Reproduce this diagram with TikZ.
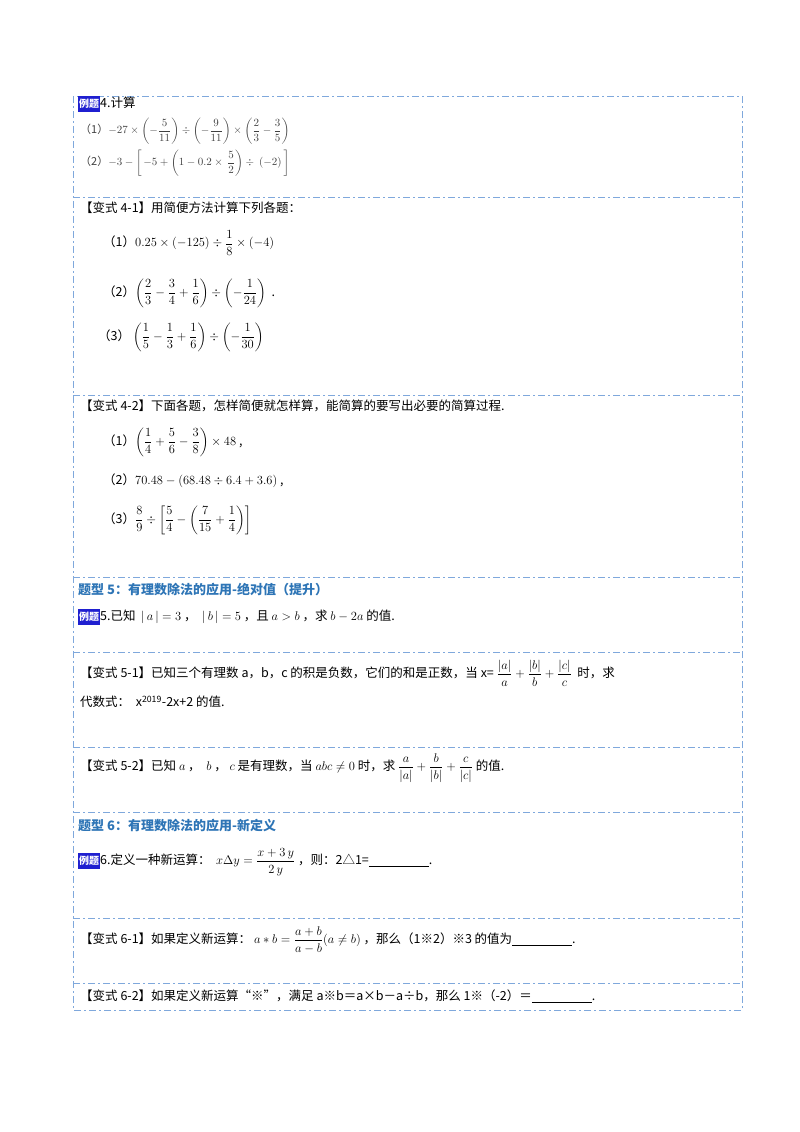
\RequirePackage{fix-cm}
\documentclass[tikz,border=0pt]{standalone}
\usepackage{amsmath}
\usepackage{fontspec}
\newfontfamily\cjk{Noto Sans CJK SC}
\definecolor{frameblue}{HTML}{7FA8DC}
\definecolor{headblue}{HTML}{2E75B6}
\definecolor{tagblue}{HTML}{1F1FD0}
\newcommand{\tagli}{\colorbox{tagblue}{\kern-2pt\textcolor{white}{\fontsize{10}{11}\selectfont\cjk\bfseries 例题}\kern-2pt}}
\begin{document}
\begin{tikzpicture}[x=1pt,y=-1pt,
  txt/.style={anchor=west,inner sep=0pt,font=\fontsize{12.5}{15}\selectfont\cjk},
  sm/.style={anchor=west,inner sep=0pt,font=\fontsize{11}{13}\selectfont\cjk,text=black!75},
  head/.style={anchor=west,inner sep=0pt,font=\fontsize{13}{15}\selectfont\cjk\bfseries,text=headblue},
  sep/.style={draw=frameblue,line width=1pt,dash pattern=on 7pt off 3pt on 2pt off 3pt}]
\useasboundingbox (0,0) rectangle (800,1132);
\draw[sep] (73,96) rectangle (742,1010);
\foreach \yy in {197,395,577,652,747,812,918,983} \draw[sep] (73,\yy) -- (742,\yy);
\node[txt] (e4) at (78,104) {\tagli 4.计算};
\node[sm] (e4a) at (80,131) {（1）$-27\times\left(-\dfrac{5}{11}\right)\div\left(-\dfrac{9}{11}\right)\times\left(\dfrac{2}{3}-\dfrac{3}{5}\right)$};
\node[sm] (e4b) at (80,163) {（2）$-3-\left[\,-5+\left(1-0.2\times\,\dfrac{5}{2}\right)\div\ (-2)\,\right]$};
\node[txt] (v41) at (80,208) {【变式 4-1】用简便方法计算下列各题：};
\node[txt] (v41a) at (103,243) {（1）$0.25\times(-125)\div\dfrac{1}{8}\times(-4)$};
\node[txt] (v41b) at (103,293) {（2）$\left(\dfrac{2}{3}-\dfrac{3}{4}+\dfrac{1}{6}\right)\div\left(-\dfrac{1}{24}\right)$\ \ .};
\node[txt] (v41c) at (98,337) {（3）\ $\left(\dfrac{1}{5}-\dfrac{1}{3}+\dfrac{1}{6}\right)\div\left(-\dfrac{1}{30}\right)$};
\node[txt] (v42) at (80,406) {【变式 4-2】下面各题，怎样简便就怎样算，能简算的要写出必要的简算过程.};
\node[txt] (v42a) at (103,442) {（1）$\left(\dfrac{1}{4}+\dfrac{5}{6}-\dfrac{3}{8}\right)\times48$\ ,};
\node[txt] (v42b) at (103,481) {（2）$70.48-(68.48\div6.4+3.6)$\ ,};
\node[txt] (v42c) at (103,520) {（3）$\dfrac{8}{9}\div\left[\dfrac{5}{4}-\left(\dfrac{7}{15}+\dfrac{1}{4}\right)\right]$};
\node[head] (h5) at (78,590) {题型 5：有理数除法的应用-绝对值（提升）};
\node[txt] (e5) at (78,617) {\tagli 5.已知 \ $|\,a\,|=3$\ ，\ \ $|\,b\,|=5$\ ，且\ $a>b$\ ，求\ $b-2a$\ 的值.};
\node[txt] (v51) at (80,673) {【变式 5-1】已知三个有理数 a，b，c 的积是负数，它们的和是正数，当 x= $\dfrac{|a|}{a}+\dfrac{|b|}{b}+\dfrac{|c|}{c}$ \ 时，求};
\node[txt] (v51b) at (80,702) {代数式：\ \ x$^{\text{2019}}$-2x+2 的值.};
\node[txt] (v52) at (80,768) {【变式 5-2】已知\ $a$\ ，\ \ $b$\ ，\ $c$\ 是有理数，当\ $abc\neq0$\ 时，求\ $\dfrac{a}{|a|}+\dfrac{b}{|b|}+\dfrac{c}{|c|}$\ 的值.};
\node[head] (h6) at (78,826) {题型 6：有理数除法的应用-新定义};
\node[txt] (e6) at (78,862) {\tagli 6.定义一种新运算：\ \ $x\Delta y=\dfrac{x+3\,y}{2\,y}$\ ，则：2△1=\underline{\hspace{60pt}}.};
\node[txt] (v61) at (80,940) {【变式 6-1】如果定义新运算：\ $a*b=\dfrac{a+b}{a-b}(a\neq b)$\ ，那么（1※2）※3 的值为\underline{\hspace{60pt}}.};
\node[txt] (v62) at (80,996) {【变式 6-2】如果定义新运算“※”，满足 a※b＝a×b－a÷b，那么 1※（-2）＝\underline{\hspace{60pt}}.};
\end{tikzpicture}
\end{document}
